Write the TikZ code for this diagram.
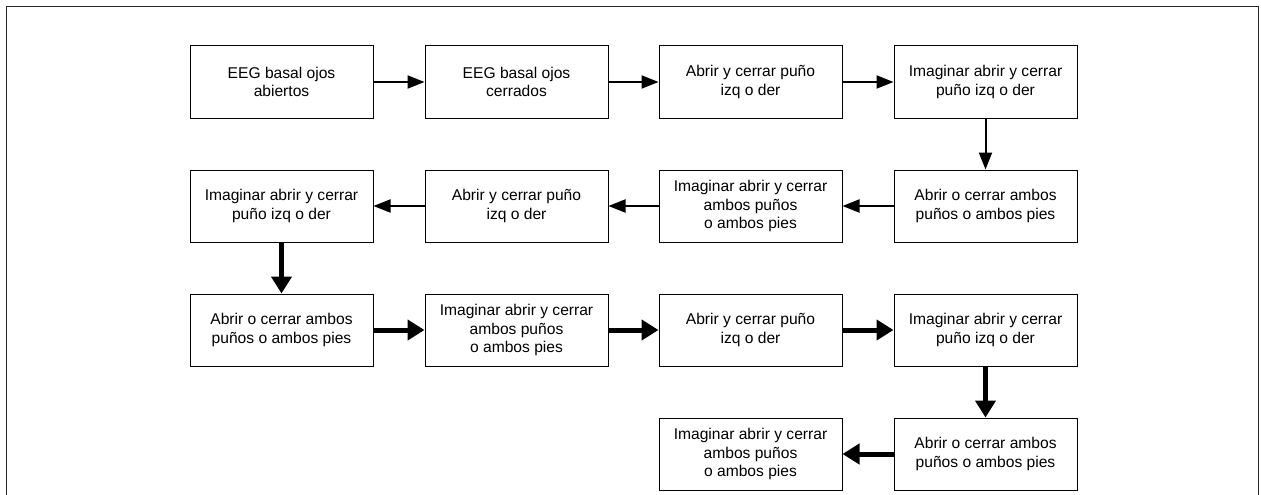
\documentclass[tikz,border=0pt]{standalone}
\usepackage{fontspec}
\setmainfont{Liberation Sans}
\usetikzlibrary{arrows.meta}
\begin{document}
\begin{tikzpicture}[x=1pt,y=-1pt,
  stepbox/.style={draw=black,line width=1pt,minimum width=183pt,minimum height=72pt,
    inner sep=2pt,align=center,font=\fontsize{15.6}{18.6}\selectfont},
  thinflow/.style={line width=2pt,-{Triangle[length=17pt,width=13pt]}},
  boldflow/.style={line width=5pt,-{Triangle[length=17pt,width=20pt]}}]
\useasboundingbox (0,0) rectangle (1261,495);
% outer frame, running off the lower edge
\draw[line width=1pt,black!85] (6,510) -- (6,7) -- (1258,7) -- (1258,510);
% row 1
\node[stepbox] (a1) at (281.5,82) {EEG basal ojos\\abiertos};
\node[stepbox] (a2) at (516.5,82) {EEG basal ojos\\cerrados};
\node[stepbox] (a3) at (750.5,82) {Abrir y cerrar puño\\izq o der};
\node[stepbox] (a4) at (985.5,82) {Imaginar abrir y cerrar\\puño izq o der};
% row 2
\node[stepbox] (b4) at (985.5,206) {Abrir o cerrar ambos\\puños o ambos pies};
\node[stepbox] (b3) at (750.5,206) {Imaginar abrir y cerrar\\ambos puños\\o ambos pies};
\node[stepbox] (b2) at (516.5,206) {Abrir y cerrar puño\\izq o der};
\node[stepbox] (b1) at (281.5,206) {Imaginar abrir y cerrar\\puño izq o der};
% row 3
\node[stepbox] (c1) at (281.5,330) {Abrir o cerrar ambos\\puños o ambos pies};
\node[stepbox] (c2) at (516.5,330) {Imaginar abrir y cerrar\\ambos puños\\o ambos pies};
\node[stepbox] (c3) at (750.5,330) {Abrir y cerrar puño\\izq o der};
\node[stepbox] (c4) at (985.5,330) {Imaginar abrir y cerrar\\puño izq o der};
% row 4
\node[stepbox] (d4) at (985.5,454) {Abrir o cerrar ambos\\puños o ambos pies};
\node[stepbox] (d3) at (750.5,454) {Imaginar abrir y cerrar\\ambos puños\\o ambos pies};
% connectors
\draw[thinflow] (a1) -- (a2);
\draw[thinflow] (a2) -- (a3);
\draw[thinflow] (a3) -- (a4);
\draw[thinflow] (a4) -- (b4);
\draw[thinflow] (b4) -- (b3);
\draw[thinflow] (b3) -- (b2);
\draw[thinflow] (b2) -- (b1);
\draw[boldflow] (b1) -- (c1);
\draw[boldflow] (c1) -- (c2);
\draw[boldflow] (c2) -- (c3);
\draw[boldflow] (c3) -- (c4);
\draw[boldflow] (c4) -- (d4);
\draw[boldflow] (d4) -- (d3);
\end{tikzpicture}
\end{document}
